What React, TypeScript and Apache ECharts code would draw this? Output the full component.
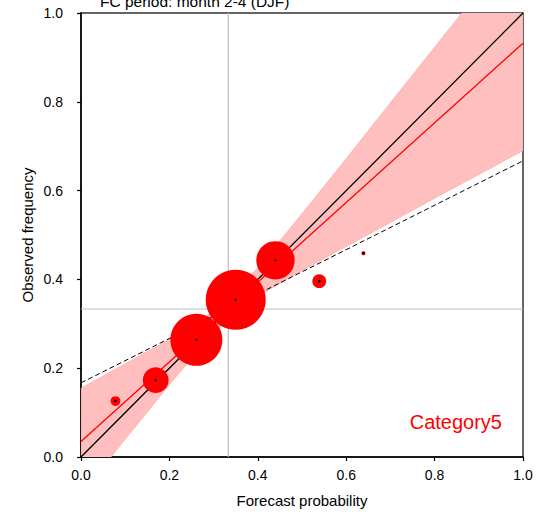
import React, { useEffect, useRef } from "react";
import * as echarts from "echarts";

// Reliability diagram data
const binProb = [0.078, 0.169, 0.261, 0.35, 0.44, 0.539, 0.639];
const binObsFreq = [0.126, 0.173, 0.264, 0.354, 0.443, 0.396, 0.459];
const binCount = [11, 76, 310, 412, 168, 22, 2]; // relative number of forecasts (per mille)

const regressionLine = [
  [0, 0.035],
  [1, 0.932],
];
const diagonalLine = [
  [0, 0],
  [1, 1],
];
const noSkillLine = [
  [0, 0.167],
  [1, 0.667],
];
const climatology = 1 / 3;

const bandX = [0, 0.1, 0.2, 0.3, 0.4, 0.5, 0.6, 0.7, 0.8, 0.9, 1.0];
const bandUpper = [0.155, 0.21, 0.265, 0.327, 0.426, 0.548, 0.672, 0.798, 0.923, 1.048, 1.174];
const bandLower = [-0.085, 0.04, 0.163, 0.281, 0.362, 0.42, 0.474, 0.528, 0.583, 0.636, 0.69];

const xTicks = [0, 0.2, 0.4, 0.6, 0.8, 1.0];

const titleText = "FC period: month 2-4 (DJF)";
const categoryText = "Category5";
const xName = "Forecast probability";
const yName = "Observed frequency";

const FONT = "'Liberation Sans', Arial, Helvetica, sans-serif";

export default function App() {
  const ref = useRef<HTMLDivElement>(null);

  useEffect(() => {
    document.body.style.margin = "0";
    if (!ref.current) return;
    const chart = echarts.init(ref.current, undefined, { renderer: "svg" });
    const maxCount = Math.max(...binCount);
    const bubbles = binProb.map((p, i) => [p, binObsFreq[i], binCount[i]]);

    const option: any = {
      animation: false,
      backgroundColor: "#ffffff",
      textStyle: { fontFamily: FONT },
      grid: {
        left: 81,
        top: 13,
        width: 442,
        height: 444,
        show: true,
        borderColor: "#333333",
        borderWidth: 1.5,
        backgroundColor: "transparent",
      },
      xAxis: {
        type: "value",
        min: 0,
        max: 1,
        interval: 0.2,
        splitLine: { show: false },
        axisLine: { show: true, onZero: false, lineStyle: { color: "#000", width: 1.5 } },
        axisTick: { show: true, inside: false, length: 4, lineStyle: { color: "#000", width: 1.2 } },
        axisLabel: {
          margin: 11,
          fontSize: 14,
          color: "#000",
          fontFamily: FONT,
          formatter: (v: number) => (xTicks.indexOf(v) >= 0 || true ? v.toFixed(1) : ""),
        },
      },
      yAxis: {
        type: "value",
        min: 0,
        max: 1,
        interval: 0.2,
        splitLine: { show: false },
        axisLine: { show: true, onZero: false, lineStyle: { color: "#000", width: 1.5 } },
        axisTick: { show: true, inside: false, length: 4, lineStyle: { color: "#000", width: 1.2 } },
        axisLabel: {
          margin: 18,
          fontSize: 14,
          color: "#000",
          fontFamily: FONT,
          formatter: (v: number) => v.toFixed(1),
        },
      },
      series: [
        {
          type: "custom",
          name: "band",
          clip: true,
          silent: true,
          data: [[0, 0]],
          renderItem: (_params: any, api: any) => {
            const pts: number[][] = [];
            for (let i = 0; i < bandX.length; i++) pts.push(api.coord([bandX[i], bandUpper[i]]));
            for (let i = bandX.length - 1; i >= 0; i--) pts.push(api.coord([bandX[i], bandLower[i]]));
            return {
              type: "polygon",
              shape: { points: pts },
              style: { fill: "#ffbfbf", stroke: "#ff9f9f", lineWidth: 0.6 },
            };
          },
          z: 1,
        },
        {
          type: "line",
          data: [
            [climatology, 0],
            [climatology, 1],
          ],
          symbol: "none",
          lineStyle: { color: "#bdbdbd", width: 1.2 },
          z: 2,
        },
        {
          type: "line",
          data: [
            [0, climatology],
            [1, climatology],
          ],
          symbol: "none",
          lineStyle: { color: "#bdbdbd", width: 1.2 },
          z: 2,
        },
        {
          type: "line",
          data: noSkillLine,
          symbol: "none",
          lineStyle: { color: "#000", width: 1, type: [5, 3] },
          z: 3,
        },
        {
          type: "line",
          data: diagonalLine,
          symbol: "none",
          lineStyle: { color: "#000", width: 1.3 },
          z: 3,
        },
        {
          type: "line",
          data: regressionLine,
          symbol: "none",
          lineStyle: { color: "#ff0000", width: 1.3 },
          z: 4,
        },
        {
          type: "scatter",
          data: bubbles,
          symbol: "circle",
          symbolSize: (d: number[]) => Math.sqrt(d[2] / maxCount) * 60,
          itemStyle: { color: "#ff0000", opacity: 1 },
          z: 5,
        },
        {
          type: "scatter",
          data: bubbles,
          symbol: "circle",
          symbolSize: 2.6,
          itemStyle: { color: "#000", opacity: 1 },
          z: 6,
        },
      ],
      graphic: [
        {
          type: "text",
          x: 100,
          y: 1.3,
          style: {
            text: titleText,
            fontSize: 15.5,
            fontFamily: FONT,
            fill: "#000",
            align: "left",
            verticalAlign: "middle",
          },
        },
        {
          type: "text",
          x: 502,
          y: 422,
          z: 20,
          style: {
            text: categoryText,
            fontSize: 20,
            fontFamily: FONT,
            fill: "#ff0000",
            align: "right",
            verticalAlign: "middle",
          },
        },
        {
          type: "text",
          x: 302,
          y: 500.4,
          style: {
            text: xName,
            fontSize: 15,
            fontFamily: FONT,
            fill: "#000",
            align: "center",
            verticalAlign: "middle",
          },
        },
        {
          type: "text",
          x: 27,
          y: 235,
          rotation: Math.PI / 2,
          style: {
            text: yName,
            fontSize: 15,
            fontFamily: FONT,
            fill: "#000",
            align: "center",
            verticalAlign: "middle",
          },
        },
      ],
    };

    chart.setOption(option);
    return () => chart.dispose();
  }, []);

  return <div ref={ref} style={{ width: 539, height: 512 }} />;
}
